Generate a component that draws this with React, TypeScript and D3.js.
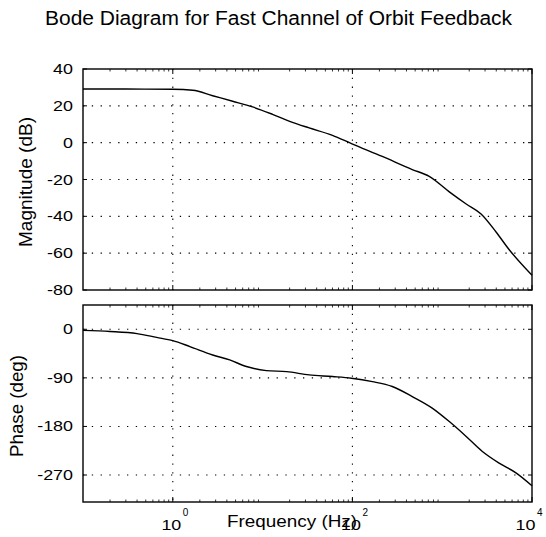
import React from 'react';
import * as d3 from 'd3';

// magnitude curve
const magFreq = [0.1, 0.3, 1, 1.67, 2.78, 4.64, 7.74, 12.9, 21.5, 33, 60, 97.5, 215, 464, 717, 1200, 1850, 2710, 3980, 5550, 10000];
const magDb = [29.1, 29.1, 29, 28.5, 25.5, 22.5, 19.4, 15.4, 11, 8, 4, -0.5, -7.5, -14.6, -18.3, -26.7, -33.3, -38.7, -48.5, -58, -72];

// phase curve
const phaseFreq = [0.1, 0.2, 0.4, 0.66, 1, 1.55, 2.78, 4.3, 6.6, 11, 18.5, 33, 60, 97.5, 167, 278, 464, 774, 1200, 1850, 2780, 4300, 6630, 10000];
const phaseDeg = [-2, -4, -8, -15, -21, -32, -47.6, -56.8, -69, -76.5, -78.5, -84.5, -87.6, -90.7, -97, -106, -124.6, -146, -171, -198.6, -226, -248, -266, -290];

const magTicks = [40, 20, 0, -20, -40, -60, -80];
const phaseTicks = [0, -90, -180, -270];
const freqTicks = [1, 100, 10000];
const freqExp = ['0', '2', '4'];

const font = '"Liberation Sans", Arial, sans-serif';

const App = () => {
	const x = d3.scaleLog().domain([0.1, 10000]).range([83, 532]);
	const yMag = d3.scaleLinear().domain([-80, 40]).range([290, 69]);
	const yPh = d3.scaleLinear().domain([-320, 45]).range([502, 305]);

	const magLine = d3.line<number>()
		.x((d, i) => x(magFreq[i]))
		.y(d => yMag(d))
		.curve(d3.curveMonotoneX);
	const phLine = d3.line<number>()
		.x((d, i) => x(phaseFreq[i]))
		.y(d => yPh(d))
		.curve(d3.curveMonotoneX);

	// minor log ticks 2..9 x 10^n
	const minor: number[] = [];
	for (let e = -1; e < 4; e++) {
		for (let k = 2; k < 10; k++) minor.push(k * Math.pow(10, e));
	}

	const panel = (y: d3.ScaleLinear<number, number>, ticks: number[], key: string) => {
		const [top, bottom] = [y.range()[1], y.range()[0]];
		const [left, right] = x.range();
		return (
			<g key={key}>
				{/* grid */}
				{ticks.filter(t => y(t) > top + 1 && y(t) < bottom - 1).map(t => (
					<line key={'gy' + t} x1={left} x2={right} y1={y(t)} y2={y(t)}
						stroke="#000" strokeWidth={1.1} strokeDasharray="1.3,7.5" />
				))}
				{freqTicks.filter(f => x(f) < right - 1).map(f => (
					<line key={'gx' + f} x1={x(f)} x2={x(f)} y1={top} y2={bottom}
						stroke="#000" strokeWidth={1.1} strokeDasharray="1.3,7.5" />
				))}
				{/* y ticks both sides */}
				{ticks.map(t => (
					<g key={'ty' + t}>
						<line x1={left} x2={left + 4} y1={y(t)} y2={y(t)} stroke="#000" />
						<line x1={right - 4} x2={right} y1={y(t)} y2={y(t)} stroke="#000" />
					</g>
				))}
				{/* x ticks */}
				{freqTicks.map(f => (
					<g key={'tx' + f}>
						<line x1={x(f)} x2={x(f)} y1={bottom} y2={bottom - 5} stroke="#000" />
						<line x1={x(f)} x2={x(f)} y1={top} y2={top + 5} stroke="#000" />
					</g>
				))}
				{minor.map(f => (
					<g key={'mx' + f}>
						<line x1={x(f)} x2={x(f)} y1={bottom} y2={bottom - 2.5} stroke="#000" strokeWidth={0.8} />
						<line x1={x(f)} x2={x(f)} y1={top} y2={top + 2.5} stroke="#000" strokeWidth={0.8} />
					</g>
				))}
				<rect x={left} y={top} width={right - left} height={bottom - top}
					fill="none" stroke="#000" strokeWidth={1.4} />
				{/* tick labels */}
				{ticks.map(t => (
					<text key={'ly' + t} transform={`translate(73,${y(t) + 5}) scale(1.28,1)`}
						textAnchor="end" fontSize={14} fontFamily={font} fill="#000">{t}</text>
				))}
			</g>
		);
	};

	return (
		<svg width={546} height={537} style={{position: 'absolute', left: 0, top: 0, background: '#fff'}}>
			<text x={45} y={25} fontSize={19.5} fontFamily={font} textLength={467}
				lengthAdjust="spacingAndGlyphs" fill="#000">Bode Diagram for Fast Channel of Orbit Feedback</text>

			{panel(yMag, magTicks, 'mag')}
			{panel(yPh, phaseTicks, 'ph')}

			<path d={magLine(magDb) || ''} fill="none" stroke="#000" strokeWidth={1.4} />
			<path d={phLine(phaseDeg) || ''} fill="none" stroke="#000" strokeWidth={1.4} />

			<text transform="translate(32,182) rotate(-90)" textAnchor="middle" fontSize={19}
				fontFamily={font} textLength={130} lengthAdjust="spacingAndGlyphs" fill="#000">Magnitude (dB)</text>
			<text transform="translate(23,406) rotate(-90)" textAnchor="middle" fontSize={19}
				fontFamily={font} textLength={102} lengthAdjust="spacingAndGlyphs" fill="#000">Phase (deg)</text>

			{freqTicks.map((f, i) => {
				// keep the last label inside the picture
				const cx = Math.min(x(f), 527);
				return (
					<g key={'xl' + f}>
						<text transform={`translate(${cx + 8.5},530) scale(1.28,1)`} textAnchor="end"
							fontSize={14} fontFamily={font} fill="#000">10</text>
						<text x={cx + 10} y={516} fontSize={10} fontFamily={font} fill="#000">{freqExp[i]}</text>
					</g>
				);
			})}
			<text x={227} y={527} fontSize={16} fontFamily={font} textLength={130}
				lengthAdjust="spacingAndGlyphs" fill="#000">Frequency  (Hz)</text>
		</svg>
	);
};

export default App;
